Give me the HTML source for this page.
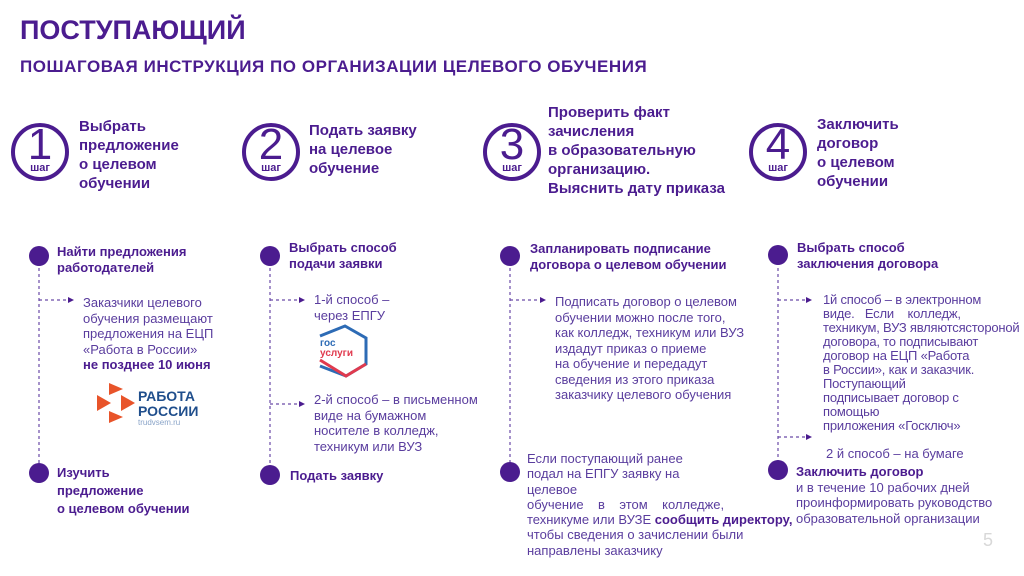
<!DOCTYPE html>
<html><head><meta charset="utf-8"><style>
body{margin:0;width:1024px;height:576px;background:#fff;position:relative;overflow:hidden;font-family:"Liberation Sans",sans-serif;}
.a{position:absolute;white-space:nowrap;}
.h{color:#4b1c8f;font-weight:bold;}
.s{color:#4b1c8f;font-weight:bold;font-size:15px;line-height:19px;}
.b{color:#4b1c8f;font-weight:bold;font-size:13px;line-height:16px;}
.t{color:#5a3d9e;font-size:13px;line-height:15.5px;}
.n{color:#4b1c8f;font-size:44px;line-height:44px;width:56px;text-align:center;}
.sh{color:#4b1c8f;font-size:11px;font-weight:bold;width:56px;text-align:center;}
</style></head><body>
<svg class="a" style="left:0;top:0" width="1024" height="576">
<g fill="none" stroke="#4b1c8f" stroke-width="4">
<circle cx="40" cy="152" r="27"/><circle cx="271" cy="152" r="27"/><circle cx="512" cy="152" r="27"/><circle cx="778" cy="152" r="27"/>
</g>
<g stroke="#6a4aa8" stroke-width="1.2" stroke-dasharray="3,3" fill="none">
<line x1="39" y1="262" x2="39" y2="468"/><line x1="270" y1="262" x2="270" y2="468"/>
<line x1="510" y1="262" x2="510" y2="466"/><line x1="778" y1="262" x2="778" y2="466"/>
<line x1="39" y1="300" x2="68" y2="300"/>
<line x1="270" y1="300" x2="299" y2="300"/><line x1="270" y1="404" x2="299" y2="404"/>
<line x1="510" y1="300" x2="540" y2="300"/>
<line x1="778" y1="300" x2="806" y2="300"/><line x1="778" y1="437" x2="806" y2="437"/>
</g>
<g fill="#4b1c8f">
<path d="M68 297l6 3-6 3z"/><path d="M299 297l6 3-6 3z"/><path d="M299 401l6 3-6 3z"/>
<path d="M540 297l6 3-6 3z"/><path d="M806 297l6 3-6 3z"/><path d="M806 434l6 3-6 3z"/>
<circle cx="39" cy="256" r="10"/><circle cx="39" cy="473" r="10"/>
<circle cx="270" cy="256" r="10"/><circle cx="270" cy="475" r="10"/>
<circle cx="510" cy="256" r="10"/><circle cx="510" cy="472" r="10"/>
<circle cx="778" cy="255" r="10"/><circle cx="778" cy="470" r="10"/>
</g>
<g fill="#e8542a">
<path d="M109 383l14 6-14 6z"/><path d="M97 395l14 8-14 8z"/><path d="M121 395l14 8-14 8z"/><path d="M109 411l14 6-14 6z"/>
</g>
<path d="M320 336 L345 326 L366 338 L366 364 L346 376 L320 366" fill="none" stroke="#2d6bb5" stroke-width="3"/>
<path d="M320 360 L346 376 L366 364" fill="none" stroke="#e03a4e" stroke-width="3"/>
</svg>
<div class="a h" style="left:20px;top:15px;font-size:27px;">ПОСТУПАЮЩИЙ</div>
<div class="a h" style="left:20px;top:57px;font-size:17px;letter-spacing:0.55px;">ПОШАГОВАЯ ИНСТРУКЦИЯ ПО ОРГАНИЗАЦИИ ЦЕЛЕВОГО ОБУЧЕНИЯ</div>

<div class="a n" style="left:12px;top:123px">1</div><div class="a sh" style="left:12px;top:162px">шаг</div>
<div class="a n" style="left:243px;top:123px">2</div><div class="a sh" style="left:243px;top:162px">шаг</div>
<div class="a n" style="left:484px;top:123px">3</div><div class="a sh" style="left:484px;top:162px">шаг</div>
<div class="a n" style="left:750px;top:123px">4</div><div class="a sh" style="left:750px;top:162px">шаг</div>

<div class="a s" style="left:79px;top:117px">Выбрать<br>предложение<br>о целевом<br>обучении</div>
<div class="a s" style="left:309px;top:121px">Подать заявку<br>на целевое<br>обучение</div>
<div class="a s" style="left:548px;top:103px">Проверить факт<br>зачисления<br>в образовательную<br>организацию.<br>Выяснить дату приказа</div>
<div class="a s" style="left:817px;top:115px">Заключить<br>договор<br>о целевом<br>обучении</div>

<div class="a b" style="left:57px;top:244px">Найти предложения<br>работодателей</div>
<div class="a t" style="left:83px;top:295px">Заказчики целевого<br>обучения размещают<br>предложения на ЕЦП<br>«Работа в России»<br><b style="color:#4b1c8f">не позднее 10 июня</b></div>
<div class="a" style="left:138px;top:389px;color:#1f4e8c;font-weight:bold;font-size:14px;line-height:15px">РАБОТА<br>РОССИИ</div>
<div class="a" style="left:138px;top:418px;color:#8aa4c8;font-size:8px">trudvsem.ru</div>
<div class="a b" style="left:57px;top:464px;line-height:18px">Изучить<br>предложение<br>о целевом обучении</div>

<div class="a b" style="left:289px;top:240px">Выбрать способ<br>подачи заявки</div>
<div class="a t" style="left:314px;top:292px">1-й способ –<br>через ЕПГУ</div>
<div class="a" style="left:320px;top:339px;color:#2d6bb5;font-weight:bold;font-size:10px;line-height:10px">гос<br><span style="color:#e03a4e">услуги</span></div>
<div class="a t" style="left:314px;top:392px">2-й способ – в письменном<br>виде на бумажном<br>носителе в колледж,<br>техникум или ВУЗ</div>
<div class="a b" style="left:290px;top:468px">Подать заявку</div>

<div class="a b" style="left:530px;top:241px">Запланировать подписание<br>договора о целевом обучении</div>
<div class="a t" style="left:555px;top:294px">Подписать договор о целевом<br>обучении можно после того,<br>как колледж, техникум или ВУЗ<br>издадут приказ о приеме<br>на обучение и передадут<br>сведения из этого приказа<br>заказчику целевого обучения</div>
<div class="a t" style="left:527px;top:451px;line-height:15.3px">Если поступающий ранее<br>подал на ЕПГУ заявку на<br>целевое<br>обучение&nbsp;&nbsp;&nbsp; в&nbsp;&nbsp;&nbsp; этом&nbsp;&nbsp;&nbsp; колледже,<br>техникуме или ВУЗЕ <b style="color:#4b1c8f">сообщить директору,</b><br>чтобы сведения о зачислении были<br>направлены заказчику</div>

<div class="a b" style="left:797px;top:240px">Выбрать способ<br>заключения договора</div>
<div class="a t" style="left:823px;top:293px;line-height:14px;letter-spacing:-0.2px">1й способ – в электронном<br>виде.&nbsp;&nbsp; Если&nbsp;&nbsp;&nbsp; колледж,<br>техникум, ВУЗ являютсястороной<br>договора, то подписывают<br>договор на ЕЦП «Работа<br>в России», как и заказчик.<br>Поступающий<br>подписывает договор с<br>помощью<br>приложения «Госключ»</div>
<div class="a t" style="left:826px;top:446px">2 й способ – на бумаге</div>
<div class="a t" style="left:796px;top:464px"><b style="color:#4b1c8f">Заключить договор</b><br>и в течение 10 рабочих дней<br>проинформировать руководство<br>образовательной организации</div>
<div class="a" style="left:983px;top:530px;color:#d8d8d8;font-size:18px">5</div>
</body></html>
